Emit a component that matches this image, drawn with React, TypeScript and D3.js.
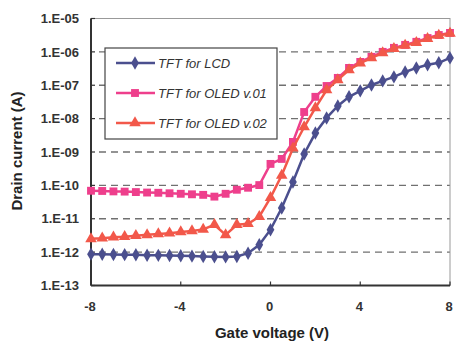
import React from 'react';
import * as d3 from 'd3';

const voltages = [
  -8, -7.5, -7, -6.5, -6, -5.5, -5, -4.5, -4, -3.5, -3, -2.5, -2, -1.5, -1, -0.5,
  0, 0.5, 1, 1.5, 2, 2.5, 3, 3.5, 4, 4.5, 5, 5.5, 6, 6.5, 7, 7.5, 8
];

const lcd = [
  8.7e-13, 8.6e-13, 8.5e-13, 8.4e-13, 8.3e-13, 8.1e-13, 8.0e-13, 7.9e-13, 7.8e-13,
  7.6e-13, 7.4e-13, 7.3e-13, 7.2e-13, 7.4e-13, 9.3e-13, 1.66e-12,
  4.7e-12, 2.1e-11, 1.26e-10, 8.7e-10, 3.7e-9, 1.05e-8, 2.4e-8, 4.5e-8,
  6.8e-8, 1.02e-7, 1.35e-7, 1.78e-7, 2.5e-7, 3.3e-7, 4.1e-7, 4.7e-7, 6.6e-7
];

const oled1 = [
  6.9e-11, 6.8e-11, 6.6e-11, 6.5e-11, 6.3e-11, 6.1e-11, 6.0e-11, 5.8e-11, 5.6e-11,
  5.4e-11, 5.2e-11, 4.6e-11, 5.6e-11, 7.4e-11, 8.5e-11, 1.02e-10,
  4.4e-10, 6.2e-10, 2.0e-9, 1.58e-8, 4.5e-8, 9.5e-8, 1.66e-7, 3.3e-7,
  5.0e-7, 7.1e-7, 1.0e-6, 1.32e-6, 1.62e-6, 2.0e-6, 2.6e-6, 3.2e-6, 3.7e-6
];

const oled2 = [
  2.5e-12, 2.6e-12, 2.8e-12, 2.9e-12, 3.1e-12, 3.3e-12, 3.5e-12, 3.7e-12, 4.0e-12,
  4.3e-12, 4.8e-12, 6.6e-12, 3.3e-12, 6.6e-12, 7.1e-12, 1.15e-11,
  4.3e-11, 2.0e-10, 1.3e-9, 5.6e-9, 2.1e-8, 7.2e-8, 1.45e-7, 2.9e-7,
  4.6e-7, 6.6e-7, 9.3e-7, 1.25e-6, 1.55e-6, 1.9e-6, 2.5e-6, 3.1e-6, 3.6e-6
];

const xTicks = [-8, -4, 0, 4, 8];
const yTicks = [1e-5, 1e-6, 1e-7, 1e-8, 1e-9, 1e-10, 1e-11, 1e-12, 1e-13];
const yTickLabels = ['1.E-05', '1.E-06', '1.E-07', '1.E-08', '1.E-09', '1.E-10', '1.E-11', '1.E-12', '1.E-13'];

const series = [
  { name: 'TFT for LCD', values: lcd, color: '#4b4f8e', shape: 'diamond' },
  { name: 'TFT for OLED v.01', values: oled1, color: '#ee3f8c', shape: 'square' },
  { name: 'TFT for OLED v.02', values: oled2, color: '#f2584a', shape: 'triangle' }
];

const W = 457;
const H = 343;
const m = { left: 91, right: 7, top: 18.5, bottom: 57.5 };
const font = '"Liberation Sans", Arial, sans-serif';

const x = d3.scaleLinear().domain([-8, 8]).range([m.left, W - m.right]);
const y = d3.scaleLog().domain([1e-13, 1e-5]).range([H - m.bottom, m.top]);

const symbolFor = (shape: string) => {
  if (shape === 'diamond') return d3.symbol().type(d3.symbolDiamond).size(52)();
  if (shape === 'square') return d3.symbol().type(d3.symbolSquare).size(62)();
  return d3.symbol().type(d3.symbolTriangle).size(58)();
};

export default function App() {
  const line = d3.line<number>()
    .x((_, i) => x(voltages[i]))
    .y(d => y(d));

  return (
    <svg width={W} height={H} style={{ position: 'absolute', left: 0, top: 0, background: '#fff' }}>
      {/* gridlines */}
      {yTicks.slice(1, -1).map(t => (
        <line key={t} x1={x(-8) + 8} x2={x(8)} y1={y(t)} y2={y(t)}
          stroke="#707070" strokeWidth={1.4} strokeDasharray="7,5" />
      ))}

      {/* frame */}
      <rect x={x(-8)} y={y(1e-5)} width={x(8) - x(-8)} height={y(1e-13) - y(1e-5)}
        fill="none" stroke="#999" strokeWidth={1} />
      <line x1={x(-8)} x2={x(-8)} y1={y(1e-5)} y2={y(1e-13)} stroke="#333" strokeWidth={2} />
      <line x1={x(-8)} x2={x(8)} y1={y(1e-13)} y2={y(1e-13)} stroke="#333" strokeWidth={2} />

      {/* ticks */}
      {yTicks.map(t => (
        <line key={t} x1={x(-8)} x2={x(-8) + 4} y1={y(t)} y2={y(t)} stroke="#333" strokeWidth={1.2} />
      ))}
      {xTicks.map(t => (
        <line key={t} x1={x(t)} x2={x(t)} y1={y(1e-13)} y2={y(1e-13) - 4} stroke="#333" strokeWidth={1.2} />
      ))}

      {/* tick labels */}
      {yTicks.map((t, i) => (
        <text key={t} x={79} y={y(t)} dy="0.36em" textAnchor="end"
          fontFamily={font} fontWeight="bold" fontSize={13} fill="#333">{yTickLabels[i]}</text>
      ))}
      {xTicks.map(t => (
        <text key={t} x={x(t) - 1} y={311} textAnchor="middle"
          fontFamily={font} fontWeight="bold" fontSize={13} fill="#333">{t}</text>
      ))}

      {/* axis titles */}
      <text x={272} y={338} textAnchor="middle" fontFamily={font} fontWeight="bold" fontSize={15} fill="#222">
        Gate voltage (V)
      </text>
      <text transform="translate(22,151) rotate(-90)" textAnchor="middle" fontFamily={font}
        fontWeight="bold" fontSize={15} fill="#222">
        Drain current (A)
      </text>

      {/* series */}
      {series.map(s => (
        <g key={s.name}>
          <path d={line(s.values) || ''} fill="none" stroke={s.color} strokeWidth={2.5} />
          {s.values.map((v, i) => (
            <path key={i} d={symbolFor(s.shape) || ''} fill={s.color}
              transform={`translate(${x(voltages[i])},${y(v)})`} />
          ))}
        </g>
      ))}

      {/* legend */}
      <rect x={105} y={48} width={172} height={91} fill="#fff" stroke="#444" strokeWidth={1.2} />
      {series.map((s, i) => {
        const ly = 63 + i * 30;
        return (
          <g key={s.name}>
            <line x1={116} x2={155} y1={ly} y2={ly} stroke={s.color} strokeWidth={2.5} />
            <path d={symbolFor(s.shape) || ''} fill={s.color} transform={`translate(135,${ly})`} />
            <text x={158} y={ly} dy="0.36em" fontFamily={font} fontStyle="italic" fontSize={13} fill="#333">
              {s.name}
            </text>
          </g>
        );
      })}
    </svg>
  );
}
